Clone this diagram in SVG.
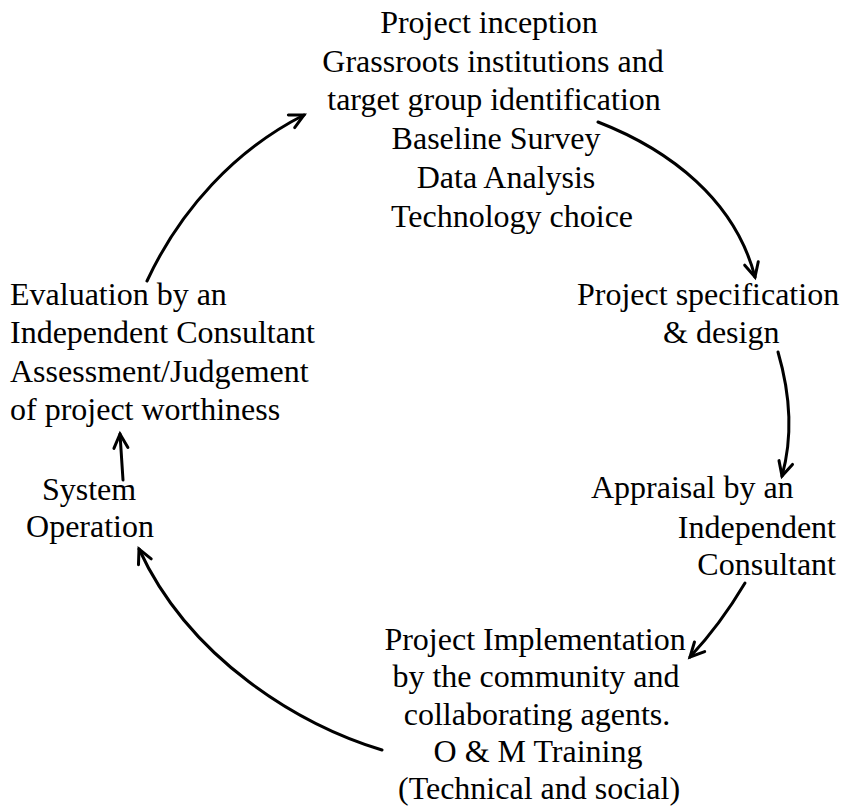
<svg xmlns="http://www.w3.org/2000/svg" width="841" height="811" viewBox="0 0 841 811">
<style>
  text { font-family: "Liberation Serif", "Times New Roman", serif; font-size: 32px; fill: #000; }
  .c { text-anchor: middle; }
  .e { text-anchor: end; }
  .arrow { fill: none; stroke: #000; stroke-width: 3; stroke-linecap: round; marker-end: url(#head); }
</style>
<defs>
  <marker id="head" markerUnits="userSpaceOnUse" viewBox="-18 -10 22 20" refX="0" refY="0" markerWidth="22" markerHeight="20" orient="auto" overflow="visible">
    <path d="M-14,-7 L0,0 L-14,7" fill="none" stroke="#000" stroke-width="3" stroke-linecap="round" stroke-linejoin="miter"/>
  </marker>
</defs>
<rect width="841" height="811" fill="#fff"/>

<g id="inception">
  <text class="c" x="489" y="33">Project inception</text>
  <text class="c" x="493" y="72">Grassroots institutions and</text>
  <text class="c" x="494" y="110">target group identification</text>
  <text class="c" x="496" y="149">Baseline Survey</text>
  <text class="c" x="506" y="188">Data Analysis</text>
  <text class="c" x="512" y="227">Technology choice</text>
</g>

<g id="specification">
  <text x="577" y="305">Project specification</text>
  <text x="663" y="343">&amp; design</text>
</g>

<g id="appraisal">
  <text x="591" y="498">Appraisal by an</text>
  <text class="e" x="836" y="538">Independent</text>
  <text class="e" x="836" y="575">Consultant</text>
</g>

<g id="implementation">
  <text class="c" x="535" y="650">Project Implementation</text>
  <text class="c" x="536" y="687">by the community and</text>
  <text class="c" x="537" y="725">collaborating agents.</text>
  <text class="c" x="538" y="762">O &amp; M Training</text>
  <text class="c" x="539" y="799">(Technical and social)</text>
</g>

<g id="operation">
  <text class="c" x="89" y="500">System</text>
  <text class="c" x="90" y="537">Operation</text>
</g>

<g id="evaluation">
  <text x="10" y="305">Evaluation by an</text>
  <text x="10" y="343">Independent Consultant</text>
  <text x="10" y="382">Assessment/Judgement</text>
  <text x="10" y="420">of project worthiness</text>
</g>

<g id="connectors">
  <path class="arrow" d="M147,281 C180,210 235,150 304,115"/>
  <path class="arrow" d="M598,122 C670,150 735,200 755,277"/>
  <path class="arrow" d="M778,352 C792,400 792,440 782,476"/>
  <path class="arrow" d="M745,583 Q720,625 690,657"/>
  <path class="arrow" d="M382,750 C300,725 190,660 139,549"/>
  <path class="arrow" d="M123,480 L120,434"/>
</g>
</svg>
